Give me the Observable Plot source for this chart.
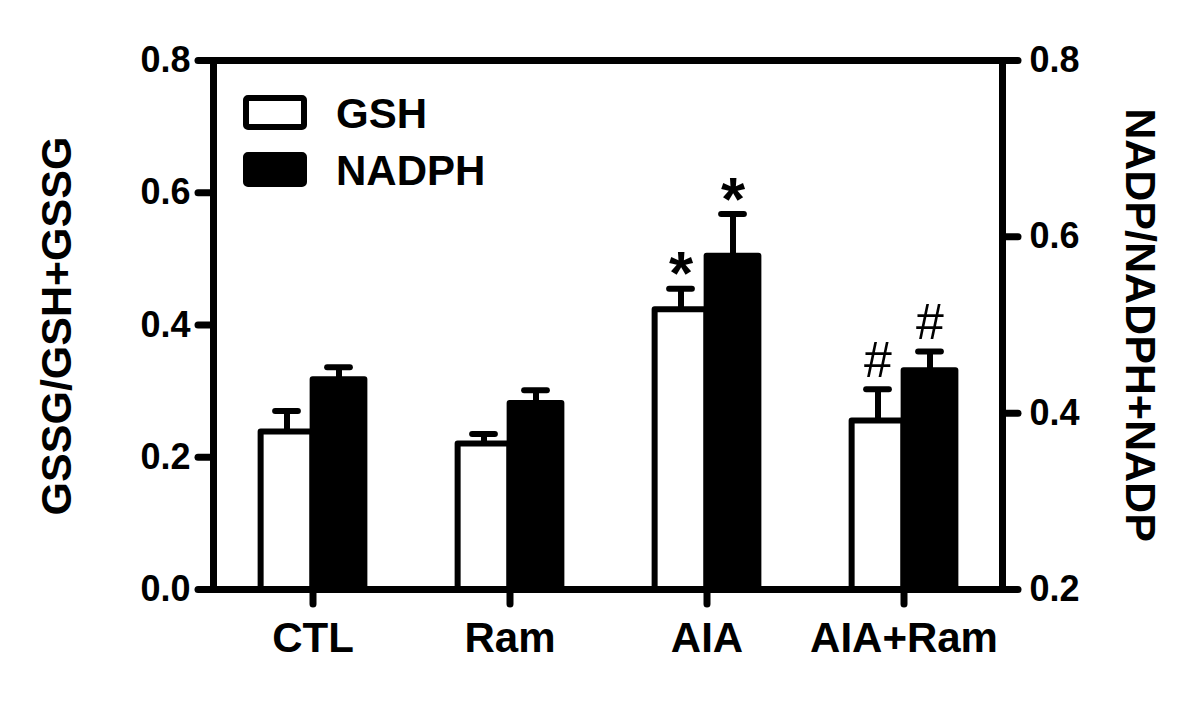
<!DOCTYPE html>
<html>
<head>
<meta charset="utf-8">
<script src="https://cdn.jsdelivr.net/npm/d3@7"></script>
<script src="https://cdn.jsdelivr.net/npm/@observablehq/plot@0.6"></script>
<style>
  html, body { margin: 0; padding: 0; background: white; }
  #wrap { position: relative; width: 1200px; height: 706px; }
  #overlay { position: absolute; left: 0; top: 0; pointer-events: none; }
  text { font-family: "Liberation Sans", Arial, sans-serif; }
</style>
</head>
<body>
<div id="wrap"></div>
<script>
// ---- data ----
const categories = ["CTL", "Ram", "AIA", "AIA+Ram"];
const seriesNames = ["GSH", "NADPH"];
// GSH: GSSG/GSH+GSSG (left axis)
const gshValues = [0.238, 0.220, 0.423, 0.255];
const gshErrors = [0.032, 0.015, 0.032, 0.048];
const gshMarks  = ["", "", "*", "#"];
// NADPH: NADP/NADPH+NADP (right axis)
const nadphValues = [0.438, 0.411, 0.578, 0.448];
const nadphErrors = [0.014, 0.015, 0.048, 0.022];
const nadphMarks  = ["", "", "*", "#"];
// axis ticks
const leftTicks  = [0.0, 0.2, 0.4, 0.6, 0.8];
const rightTicks = [0.2, 0.4, 0.6, 0.8];
const leftDomain  = [0, 0.8];
const rightDomain = [0.2, 0.8];
const yTitleLeft  = "GSSG/GSH+GSSG";
const yTitleRight = "NADP/NADPH+NADP";

// map right-axis values into the left-axis domain
const toLeft = v => leftDomain[0] + (v - rightDomain[0]) * (leftDomain[1] - leftDomain[0]) / (rightDomain[1] - rightDomain[0]);
const toRight = v => rightDomain[0] + (v - leftDomain[0]) * (rightDomain[1] - rightDomain[0]) / (leftDomain[1] - leftDomain[0]);

const gshData = categories.map((c, i) => ({cat: c, y: gshValues[i], top: gshValues[i] + gshErrors[i], mark: gshMarks[i]}));
const nadphData = categories.map((c, i) => ({cat: c, y: toLeft(nadphValues[i]), top: toLeft(nadphValues[i] + nadphErrors[i]), mark: nadphMarks[i]}));

const W = 1200, H = 706;
const mL = 213, mR = 198, mT = 60, mB = 117;
const band = (W - mL - mR) / categories.length;
const barW = 52, capW = 23, off = 26;

function seriesMarks(data, fill, dx) {
  const bi = (band - barW) / 2, ci = (band - capW) / 2;
  return [
    Plot.ruleX(data, {x: "cat", y1: "y", y2: "top", stroke: "black", strokeWidth: 6, dx}),
    Plot.barY(data, {x: "cat", y: "y", fill, stroke: "black", strokeWidth: 6, strokeLinejoin: "round", insetLeft: bi, insetRight: bi, dx}),
    Plot.tickY(data, {x: "cat", y: "top", stroke: "black", strokeWidth: 6, strokeLinecap: "round", insetLeft: ci, insetRight: ci, dx}),
    Plot.text(data.filter(d => d.mark === "*"), {x: "cat", y: "top", text: "mark", dx, dy: -14, fontSize: 62, fontWeight: "bold", fill: "black"}),
    Plot.text(data.filter(d => d.mark === "#"), {x: "cat", y: "top", text: "mark", dx, dy: -28, fontSize: 50, fontWeight: "normal", fill: "black"})
  ];
}

const fmt = d3.format(".1f");
const chart = Plot.plot({
  width: W, height: H,
  marginLeft: mL, marginRight: mR, marginTop: mT, marginBottom: mB,
  x: {domain: categories, padding: 0, label: null},
  y: {domain: leftDomain, label: null},
  style: {fontFamily: "'Liberation Sans', Arial, sans-serif", background: "white", color: "black", overflow: "visible"},
  marks: [
    ...seriesMarks(gshData, "white", -off),
    ...seriesMarks(nadphData, "black", off),
    Plot.frame({stroke: "black", strokeWidth: 7}),
    Plot.axisY({anchor: "left", ticks: leftTicks, tickFormat: fmt, tickSize: 15, tickPadding: 8,
      stroke: "black", strokeWidth: 7, strokeLinecap: "round", fontSize: 36, fontWeight: "bold", label: null}),
    Plot.axisY({anchor: "right", ticks: rightTicks.map(toLeft), tickFormat: v => fmt(toRight(v)), tickSize: 15, tickPadding: 12,
      stroke: "black", strokeWidth: 7, strokeLinecap: "round", fontSize: 36, fontWeight: "bold", label: null}),
    Plot.axisX({anchor: "bottom", tickSize: 15, tickPadding: 18,
      stroke: "black", strokeWidth: 7, strokeLinecap: "round", fontSize: 42, fontWeight: "bold", label: null})
  ]
});

const wrap = document.getElementById("wrap");
wrap.appendChild(chart);

// overlay: axis titles and legend
const ov = d3.select(wrap).append("svg").attr("id", "overlay").attr("width", W).attr("height", H);
ov.append("text").attr("transform", "translate(56,326) rotate(-90)")
  .attr("text-anchor", "middle").attr("dominant-baseline", "central")
  .attr("font-size", 43).attr("font-weight", "bold").text(yTitleLeft);
ov.append("text").attr("transform", "translate(1141,325) rotate(90)")
  .attr("text-anchor", "middle").attr("dominant-baseline", "central")
  .attr("font-size", 43).attr("font-weight", "bold").text(yTitleRight);

const legendFills = ["white", "black"];
const legendTop = [98, 155], legendBase = [128, 185];
seriesNames.forEach((name, i) => {
  ov.append("rect").attr("x", 246).attr("y", legendTop[i]).attr("width", 58).attr("height", 29)
    .attr("rx", 2).attr("fill", legendFills[i]).attr("stroke", "black").attr("stroke-width", 6).attr("stroke-linejoin", "round");
  ov.append("text").attr("x", 336).attr("y", legendBase[i]).attr("font-size", 42).attr("font-weight", "bold").text(name);
});
</script>
</body>
</html>
